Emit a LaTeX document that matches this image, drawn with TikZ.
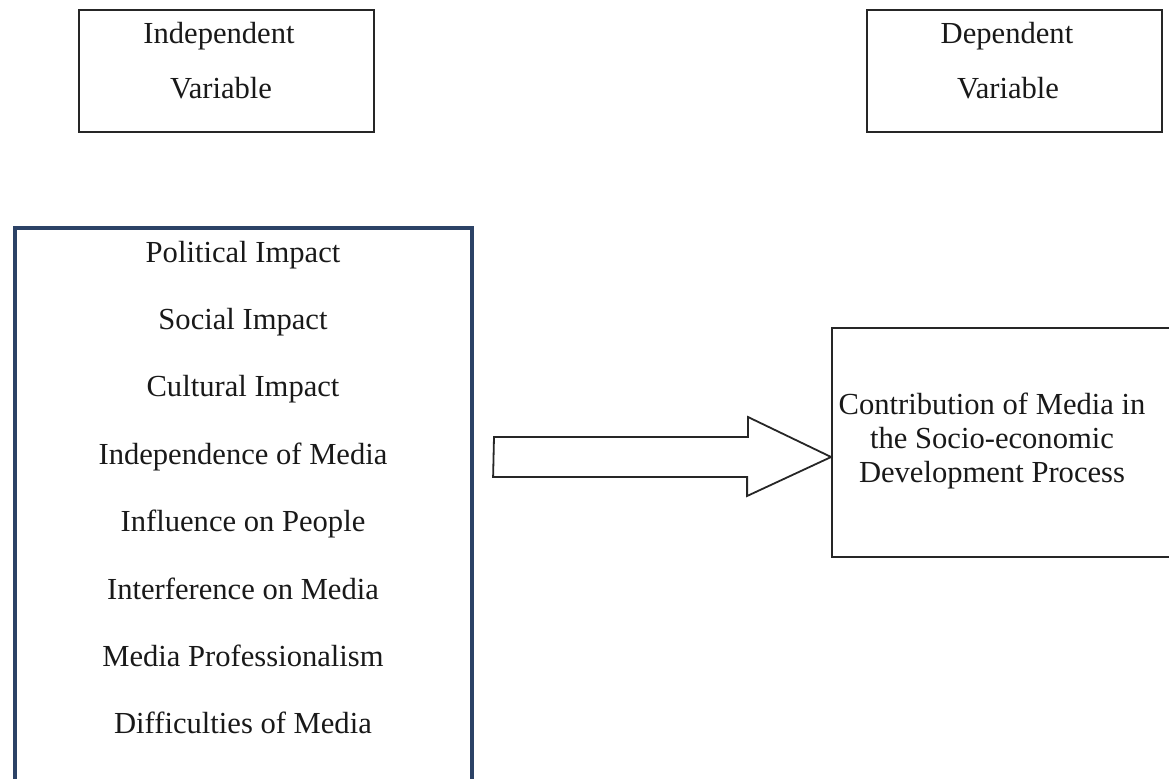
\documentclass[tikz,border=0pt]{standalone}
\usepackage{fontspec}
\setmainfont{Liberation Serif}
\definecolor{framenavy}{RGB}{44,66,102}
\tikzset{
  thinbox/.style={draw=black!85, line width=0.9pt, inner sep=0pt},
  navybox/.style={draw=framenavy, line width=2pt, inner sep=0pt},
  txt/.style={font=\fontsize{15.3}{17}\selectfont, text=black!90, inner sep=0pt, anchor=base}
}
\begin{document}
\begin{tikzpicture}[x=0.5pt,y=-0.5pt]
    \useasboundingbox (0,0) rectangle (1169,778);
    \clip (0,0) rectangle (1169,778);
    % headings
    \node[thinbox, minimum width=147.5pt, minimum height=61pt] (indep) at (226.5,71) {};
    \node[txt] (indepA) at (219,43) {Independent};
    \node[txt] (indepB) at (221,98) {Variable};
    \node[thinbox, minimum width=147.5pt, minimum height=61pt] (dep) at (1014.5,71) {};
    \node[txt] (depA) at (1007,43) {Dependent};
    \node[txt] (depB) at (1008,98) {Variable};
    % factors
    \node[navybox, minimum width=228.5pt, minimum height=296pt] (factors) at (243.5,524) {};
    \foreach \t [count=\i from 0] in {Political Impact, Social Impact, Cultural Impact,
        Independence of Media, Influence on People, Interference on Media,
        Media Professionalism, Difficulties of Media} {
        \node[txt] (f\i) at (243,262+67.4*\i) {\t};
    }
    % result
    \node[thinbox, minimum width=184pt, minimum height=114.5pt] (result) at (1016,442.5) {};
    \node[txt] (r0) at (992,414) {Contribution of Media in};
    \node[txt] (r1) at (992,448) {the Socio-economic};
    \node[txt] (r2) at (992,482) {Development Process};
    % block arrow
    \coordinate (tail) at (494,457);
    \coordinate (tip) at (result.west |- tail);
    \draw[black!85, line width=0.9pt, line join=miter] (tail) ++(0,-20) -- ++(254,0) -- ++(0,-20)
        -- (tip) -- ++(-84,39) -- ++(0,-19) -- ++(-254,0) -- cycle;
\end{tikzpicture}
\end{document}
